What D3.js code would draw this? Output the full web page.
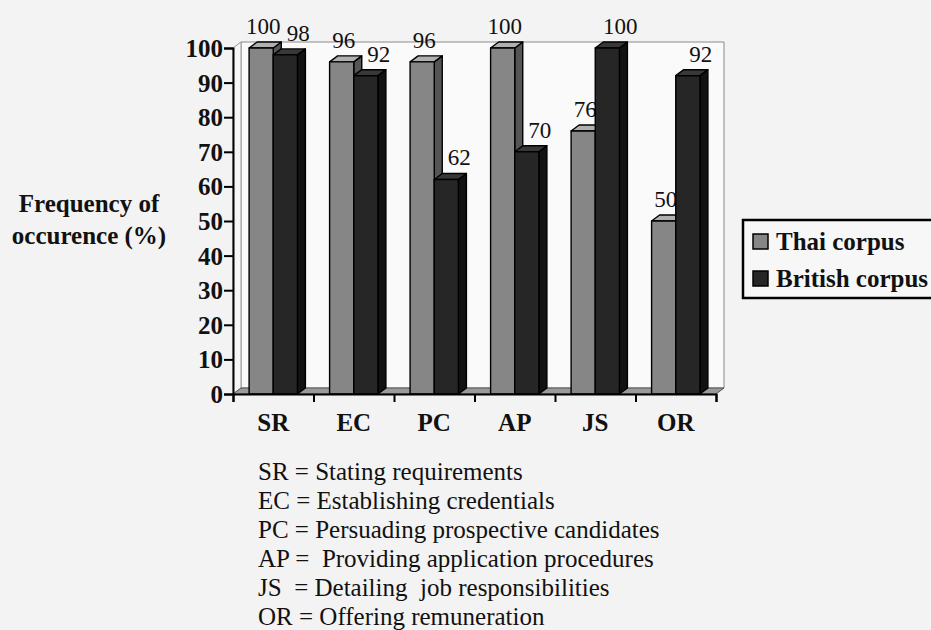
<!DOCTYPE html>
<html>
<head>
<meta charset="utf-8">
<script src="https://cdn.jsdelivr.net/npm/d3@7"></script>
<style>
  html, body { margin: 0; padding: 0; background: #f3f3f3; }
  svg { display: block; font-family: "Liberation Serif", "Times New Roman", serif; }
</style>
</head>
<body>
<svg id="chart" width="931" height="630"></svg>
<script>
// Move frequencies (%) in the two corpora
const categories = ["SR", "EC", "PC", "AP", "JS", "OR"];
const thaiValues = [100, 96, 96, 100, 76, 50];
const britishValues = [98, 92, 62, 70, 100, 92];
const seriesNames = ["Thai corpus", "British corpus"];
const yTicks = [0, 10, 20, 30, 40, 50, 60, 70, 80, 90, 100];
const yTitle = ["Frequency of", "occurence (%)"];
const definitions = [
  "SR = Stating requirements",
  "EC = Establishing credentials",
  "PC = Persuading prospective candidates",
  "AP =  Providing application procedures",
  "JS  = Detailing  job responsibilities",
  "OR = Offering remuneration"
];

const svg = d3.select("#chart");

const plot = { left: 233, right: 716, top: 48, bottom: 394 };
const depth = { dx: 8, dy: -6 };

const x = d3.scaleBand()
  .domain(categories)
  .range([plot.left, plot.right])
  .paddingInner(0.4)
  .paddingOuter(0.2);
const xSeries = d3.scaleBand().domain([0, 1]).range([0, x.bandwidth()]);
const y = d3.scaleLinear().domain([0, 100]).range([plot.bottom, plot.top]);
const xEdges = d3.scaleLinear().domain([0, categories.length]).range([plot.left, plot.right]);

const series = [
  { name: seriesNames[0], values: thaiValues, front: "#868686", side: "#555555", top: "#b0b0b0", labelDx: 2 },
  { name: seriesNames[1], values: britishValues, front: "#262626", side: "#121212", top: "#383838", labelDx: 13 }
];

// Walls and floor of the 3-D box
const walls = svg.append("g");
walls.append("polygon")
  .attr("points", [
    [plot.left + depth.dx, y(100) + depth.dy],
    [plot.right + depth.dx, y(100) + depth.dy],
    [plot.right + depth.dx, y(0) + depth.dy],
    [plot.left + depth.dx, y(0) + depth.dy]
  ].join(" "))
  .attr("fill", "#fafafa").attr("stroke", "#8a8a8a").attr("stroke-width", 1);
walls.append("polygon")
  .attr("points", [
    [plot.left, y(100)], [plot.left + depth.dx, y(100) + depth.dy],
    [plot.left + depth.dx, y(0) + depth.dy], [plot.left, y(0)]
  ].join(" "))
  .attr("fill", "#f6f6f6").attr("stroke", "#9a9a9a").attr("stroke-width", 1);
walls.append("polygon")
  .attr("points", [
    [plot.left, y(0)], [plot.left + depth.dx, y(0) + depth.dy],
    [plot.right + depth.dx, y(0) + depth.dy], [plot.right, y(0)]
  ].join(" "))
  .attr("fill", "#9a9a9a").attr("stroke", "#555").attr("stroke-width", 1);

// 3-D columns, each followed by its value label so later columns can overlap earlier labels
const bars = svg.append("g");
categories.forEach((cat, i) => {
  series.forEach((s, k) => {
    const v = s.values[i];
    const x0 = x(cat) + xSeries(k);
    const x1 = x0 + xSeries.bandwidth();
    const yt = y(v), yb = y(0);
    const g = bars.append("g")
      .attr("stroke", "#000").attr("stroke-width", 1.4).attr("stroke-linejoin", "round");
    g.append("polygon")
      .attr("points", [[x1, yt], [x1 + depth.dx, yt + depth.dy], [x1 + depth.dx, yb + depth.dy], [x1, yb]].join(" "))
      .attr("fill", s.side);
    g.append("polygon")
      .attr("points", [[x0, yt], [x0 + depth.dx, yt + depth.dy], [x1 + depth.dx, yt + depth.dy], [x1, yt]].join(" "))
      .attr("fill", s.top);
    g.append("rect")
      .attr("x", x0).attr("y", yt).attr("width", x1 - x0).attr("height", yb - yt)
      .attr("fill", s.front);
    bars.append("text")
      .attr("x", (x0 + x1) / 2 + s.labelDx)
      .attr("y", yt - 14)
      .attr("font-size", 23).attr("text-anchor", "middle").attr("fill", "#111")
      .text(v);
  });
});

// Value axis
const yAxis = svg.append("g")
  .attr("transform", `translate(${plot.left},0)`)
  .call(d3.axisLeft(y).tickValues(yTicks).tickSize(9).tickPadding(1));
yAxis.select(".domain").attr("stroke", "#000").attr("stroke-width", 2);
yAxis.selectAll(".tick line").attr("stroke", "#000").attr("stroke-width", 2);
yAxis.selectAll(".tick text")
  .attr("font-family", "Liberation Serif, Times New Roman, serif")
  .attr("font-size", 25).attr("font-weight", "bold").attr("fill", "#111")
  .attr("dy", "0.34em");

// Category axis: ticks on band edges, labels at band centres
const xAxis = svg.append("g")
  .attr("transform", `translate(0,${plot.bottom})`)
  .call(d3.axisBottom(xEdges).tickValues(d3.range(categories.length + 1)).tickSize(8).tickFormat(""));
xAxis.select(".domain").attr("stroke", "#000").attr("stroke-width", 2);
xAxis.selectAll(".tick line").attr("stroke", "#000").attr("stroke-width", 2);

svg.append("g")
  .attr("font-size", 25).attr("font-weight", "bold").attr("text-anchor", "middle").attr("fill", "#111")
  .selectAll("text").data(categories).join("text")
  .attr("x", d => x(d) + x.bandwidth() / 2)
  .attr("y", 431)
  .text(d => d);

// Value axis title
svg.append("g")
  .attr("font-size", 25).attr("font-weight", "bold").attr("text-anchor", "middle").attr("fill", "#111")
  .selectAll("text").data(yTitle).join("text")
  .attr("x", 89)
  .attr("y", (d, i) => 212 + i * 32)
  .text(d => d);

// Legend
const legend = svg.append("g").attr("transform", "translate(743,220)");
legend.append("rect")
  .attr("x", 0).attr("y", 0).attr("width", 210).attr("height", 78)
  .attr("fill", "#f7f7f7").attr("stroke", "#000").attr("stroke-width", 2.5);
series.forEach((s, k) => {
  const row = legend.append("g").attr("transform", `translate(0,${k * 37})`);
  row.append("rect")
    .attr("x", 10).attr("y", 14).attr("width", 15).attr("height", 15)
    .attr("fill", s.front).attr("stroke", "#000").attr("stroke-width", 1.5);
  row.append("text")
    .attr("x", 33).attr("y", 30)
    .attr("font-size", 25).attr("font-weight", "bold").attr("fill", "#111")
    .text(s.name);
});

// Abbreviation key
svg.append("g")
  .attr("font-size", 25).attr("fill", "#111")
  .selectAll("text").data(definitions).join("text")
  .attr("x", 258)
  .attr("y", (d, i) => 480 + i * 29)
  .attr("xml:space", "preserve")
  .style("white-space", "pre")
  .text(d => d);
</script>
</body>
</html>
